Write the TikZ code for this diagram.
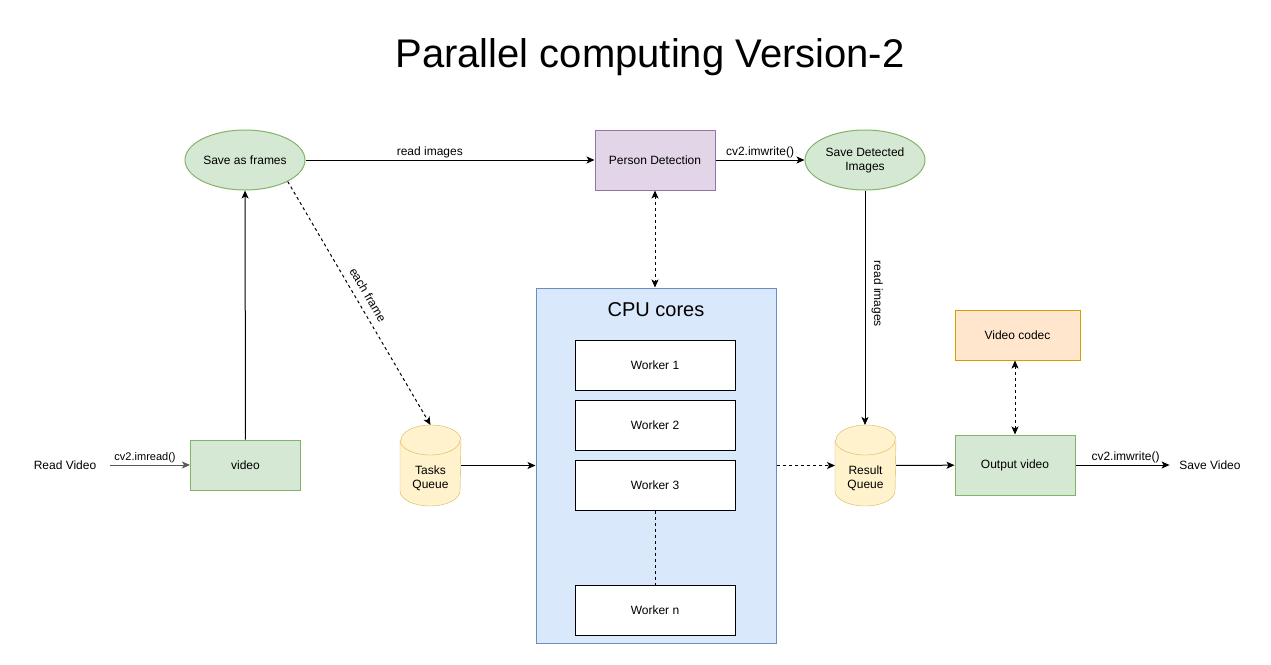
\documentclass[tikz,border=0pt]{standalone}
\usepackage{fontspec}
\setmainfont{Liberation Sans}
\usetikzlibrary{arrows.meta,shapes.geometric,backgrounds}
\definecolor{greenfill}{HTML}{D5E8D4}
\definecolor{greenline}{HTML}{82B366}
\definecolor{purplefill}{HTML}{E1D5E7}
\definecolor{purpleline}{HTML}{9673A6}
\definecolor{bluefill}{HTML}{DAE8FC}
\definecolor{blueline}{HTML}{6C8EBF}
\definecolor{yellowfill}{HTML}{FFF2CC}
\definecolor{yellowline}{HTML}{D6B656}
\definecolor{orangefill}{HTML}{FFE6CC}
\definecolor{orangeline}{HTML}{D79B00}

\begin{document}
\begin{tikzpicture}[x=1pt,y=-1pt,line width=1pt,
    >={Stealth[length=8pt,width=7pt,inset=2pt]},
    txt/.style={font=\fontsize{12}{14}\selectfont,align=center},
    lbl/.style={font=\fontsize{12}{14}\selectfont,inner sep=2pt},
    dashline/.style={dash pattern=on 3pt off 3pt},
    box/.style={txt,draw,minimum width=120pt,minimum height=60pt,inner sep=0pt},
    greenbox/.style={box,draw=greenline,fill=greenfill},
    oval/.style={txt,ellipse,draw=greenline,fill=greenfill,minimum width=120pt,minimum height=60pt,inner sep=0pt},
    worker/.style={box,draw=black,fill=white,minimum width=160pt,minimum height=50pt},
    queue/.style={minimum width=60pt,minimum height=80pt,inner sep=0pt},
    lidarc/.style={x radius=30pt,y radius=15pt}]
  \useasboundingbox (0,0) rectangle (1271,664);
  \node[font=\fontsize{40}{48}\selectfont,anchor=base] (title) at (650,67) {Parallel computing Version-2};

  % top row
  \node[oval] (sf) at (245,160) {Save as frames};
  \node[box,draw=purpleline,fill=purplefill] (pd) at (655,160) {Person Detection};
  \node[oval] (sdi) at (865,160) {Save Detected\\Images};

  % cpu cores
  \node[box,draw=blueline,fill=bluefill,minimum width=240pt,minimum height=355pt] (cpu) at (656,465.5) {};
  \node[font=\fontsize{20}{24}\selectfont] (cpulbl) at (656,310) {CPU cores};
  \foreach \i/\y in {1/365,2/425,3/485}
    \node[worker] (w\i) at (655,\y) {Worker \i};
  \node[worker] (wn) at (655,610) {Worker n};

  % bottom row
  \node[txt] (rv) at (65,465) {Read Video};
  \node[greenbox,minimum width=110pt,minimum height=50pt] (vid) at (245.5,465) {video};
  \node[queue,label={[txt,yshift=-13pt]center:Tasks\\Queue}] (tq) at (430.5,465.5) {};
  \node[queue,label={[txt,yshift=-13pt]center:Result\\Queue}] (rq) at (865.5,465.5) {};
  \node[box,draw=orangeline,fill=orangefill,minimum width=125pt,minimum height=50pt] (vc) at (1017.5,335) {Video codec};
  \node[greenbox] (ov) at (1015,465) {Output video};
  \node[txt] (sv) at (1210,465) {Save Video};

  % queue cylinders
  \begin{scope}[on background layer]
    \foreach \q in {tq,rq} {
      \draw[yellowline,fill=yellowfill] ([yshift=-15pt]\q.north west) -- ([yshift=15pt]\q.south west)
        arc[start angle=180,end angle=360,lidarc] -- ([yshift=-15pt]\q.north east)
        arc[start angle=0,end angle=180,lidarc] -- cycle;
      \draw[yellowline] ([yshift=-15pt]\q.north west) arc[start angle=180,end angle=360,lidarc];
    }
  \end{scope}

  % connectors
  \draw[->,gray!70!black,shorten <=10pt] (rv) -- node[lbl,above,font=\fontsize{11}{13}\selectfont,black]{cv2.imread()} (vid);
  \draw[->] (vid) -- (sf);
  \draw[->] (sf) -- node[lbl,above,pos=0.43]{read images} (pd);
  \draw[->] (pd) -- node[lbl,above]{cv2.imwrite()} (sdi);
  \draw[<->,dashline] (pd.south) -- (pd.south |- cpu.north);
  \draw[->,dashline] (sf.south east) -- node[lbl,sloped,above=5pt,pos=0.49]{each frame} (tq.north);
  \draw[->] (tq) -- (cpu);
  \draw[->,dashline] (cpu) -- (rq);
  \draw[->] (sdi.south) -- node[lbl,sloped,above=4pt,pos=0.44]{read images} (sdi.south |- rq.north);
  \draw[->] (rq) -- (ov);
  \draw[<->,dashline] (vc.south -| ov.north) -- (ov.north);
  \draw[dashline] (w3) -- (wn);
  \draw[->,shorten >=6pt] (ov) -- node[lbl,above]{cv2.imwrite()} (sv);
\end{tikzpicture}
\end{document}
